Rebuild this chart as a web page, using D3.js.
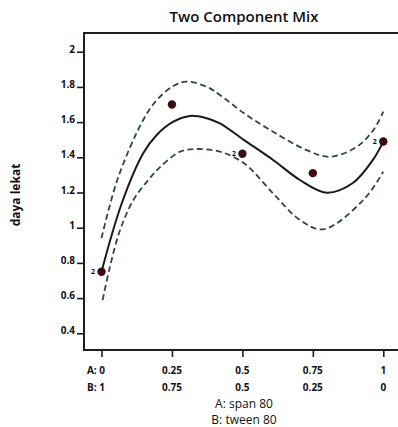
<!DOCTYPE html>
<html>
<head>
<meta charset="utf-8">
<script src="https://cdn.jsdelivr.net/npm/d3@7"></script>
<style>
  body { margin: 0; background: #fff; }
  svg { display: block; }
  text { font-family: "Open Sans", "Noto Sans", sans-serif; }
</style>
</head>
<body>
<svg id="chart" width="398" height="427"></svg>
<script>
// ---- data ----
const title = "Two Component Mix";
const yTitle = "daya lekat";
const xTitleA = "A: span 80";
const xTitleB = "B: tween 80";

const xTicks = [0, 0.25, 0.5, 0.75, 1];
const xLabelsA = ["A: 0", "0.25", "0.5", "0.75", "1"];
const xLabelsB = ["B: 1", "0.75", "0.5", "0.25", "0"];
const yTicks = [0.4, 0.6, 0.8, 1, 1.2, 1.4, 1.6, 1.8, 2];

// observed design points (x = proportion of A)
const pointX = [0, 0.25, 0.5, 0.75, 1];
const pointY = [0.75, 1.70, 1.42, 1.31, 1.49];
const pointCount = ["2", "", "2", "", "2"];

// fitted model curve
const fitX = [0, 0.072, 0.148, 0.196, 0.255, 0.314, 0.373, 0.420, 0.506, 0.609, 0.704, 0.799, 0.892, 0.963, 1.0];
const fitY = [0.75, 1.139, 1.423, 1.527, 1.602, 1.635, 1.622, 1.593, 1.498, 1.385, 1.271, 1.199, 1.254, 1.385, 1.489];

// upper confidence band
const upX = [0, 0.060, 0.148, 0.196, 0.255, 0.302, 0.373, 0.420, 0.506, 0.609, 0.728, 0.811, 0.906, 0.965, 1.0];
const upY = [0.941, 1.290, 1.612, 1.725, 1.805, 1.830, 1.801, 1.754, 1.650, 1.545, 1.441, 1.403, 1.460, 1.555, 1.659];

// lower confidence band
const loX = [0.004, 0.030, 0.066, 0.113, 0.166, 0.205, 0.279, 0.338, 0.420, 0.506, 0.609, 0.704, 0.787, 0.929, 1.0];
const loY = [0.589, 0.778, 0.987, 1.157, 1.271, 1.340, 1.432, 1.447, 1.432, 1.366, 1.195, 1.044, 0.991, 1.157, 1.318];

// ---- layout ----
const svg = d3.select("#chart");
const plotLeft = 84, plotTop = 33, plotBottom = 350, plotRight = 398;

const x = d3.scaleLinear().domain([0, 1]).range([101.5, 383.3]);
const y = d3.scaleLinear().domain([0.4, 2]).range([333.3, 51.7]);

// title
svg.append("text")
  .attr("x", 244).attr("y", 22)
  .attr("text-anchor", "middle")
  .attr("font-size", 15)
  .attr("font-weight", 600)
  .attr("fill", "#111")
  .text(title);

// frame
const frameColor = "#1e1e1e";
svg.append("path")
  .attr("d", `M${plotRight},${plotTop}H${plotLeft}V${plotBottom}H${plotRight}`)
  .attr("fill", "none")
  .attr("stroke", frameColor)
  .attr("stroke-width", 2);

// y axis
const yAxis = d3.axisLeft(y).tickValues(yTicks).tickSize(7).tickFormat(d3.format("~g"));
const gy = svg.append("g").attr("transform", `translate(${plotLeft},0)`).call(yAxis);
gy.select(".domain").remove();
gy.selectAll(".tick line").attr("stroke", frameColor).attr("stroke-width", 1.6);
gy.selectAll(".tick text")
  .attr("x", -9).attr("dy", "0.05em")
  .attr("font-size", 10).attr("font-weight", 700)
  .attr("fill", "#111")
  .style("font-family", "'Open Sans', sans-serif");

// x axis
const xAxis = d3.axisBottom(x).tickValues(xTicks).tickSize(7).tickFormat("");
const gx = svg.append("g").attr("transform", `translate(0,${plotBottom})`).call(xAxis);
gx.select(".domain").remove();
gx.selectAll(".tick line").attr("stroke", frameColor).attr("stroke-width", 1.6);

const labelG = svg.append("g")
  .attr("font-size", 10).attr("font-weight", 700).attr("fill", "#111");
xTicks.forEach((t, i) => {
  const isFirst = i === 0;
  labelG.append("text")
    .attr("x", isFirst ? x(t) + 3.5 : x(t))
    .attr("y", 373.5)
    .attr("text-anchor", isFirst ? "end" : "middle")
    .text(xLabelsA[i]);
  labelG.append("text")
    .attr("x", isFirst ? x(t) + 3.5 : x(t))
    .attr("y", 391)
    .attr("text-anchor", isFirst ? "end" : "middle")
    .text(xLabelsB[i]);
});

// x titles
svg.append("text").attr("x", 244).attr("y", 407.5)
  .attr("text-anchor", "middle").attr("font-size", 12).attr("font-weight", 500).attr("fill", "#111")
  .text(xTitleA);
svg.append("text").attr("x", 244).attr("y", 423.5)
  .attr("text-anchor", "middle").attr("font-size", 12).attr("font-weight", 500).attr("fill", "#111")
  .text(xTitleB);

// y title
svg.append("text")
  .attr("transform", "translate(20,195) rotate(-90)")
  .attr("text-anchor", "middle")
  .attr("font-size", 12).attr("font-weight", 700).attr("fill", "#111")
  .text(yTitle);

// curves
const line = d3.line().x(d => x(d[0])).y(d => y(d[1])).curve(d3.curveCatmullRom.alpha(0.5));
const zip = (a, b) => a.map((v, i) => [v, b[i]]);

const bandColor = "#2e4646";
svg.append("path").datum(zip(upX, upY))
  .attr("d", line).attr("fill", "none")
  .attr("stroke", bandColor).attr("stroke-width", 1.8)
  .attr("stroke-dasharray", "6,3.5");
svg.append("path").datum(zip(loX, loY))
  .attr("d", line).attr("fill", "none")
  .attr("stroke", bandColor).attr("stroke-width", 1.8)
  .attr("stroke-dasharray", "6,3.5");
svg.append("path").datum(zip(fitX, fitY))
  .attr("d", line).attr("fill", "none")
  .attr("stroke", "#1a1a1a").attr("stroke-width", 2);

// points
const pts = zip(pointX, pointY);
svg.append("g").selectAll("circle").data(pts).join("circle")
  .attr("cx", d => x(d[0])).attr("cy", d => y(d[1]))
  .attr("r", 4.2).attr("fill", "#3b0d12");

svg.append("g").selectAll("text").data(pts).join("text")
  .attr("x", d => x(d[0]) - 8.5).attr("y", d => y(d[1]) + 2.5)
  .attr("text-anchor", "middle")
  .attr("font-size", 7).attr("font-weight", 700).attr("fill", "#111")
  .text((d, i) => pointCount[i]);
</script>
</body>
</html>
